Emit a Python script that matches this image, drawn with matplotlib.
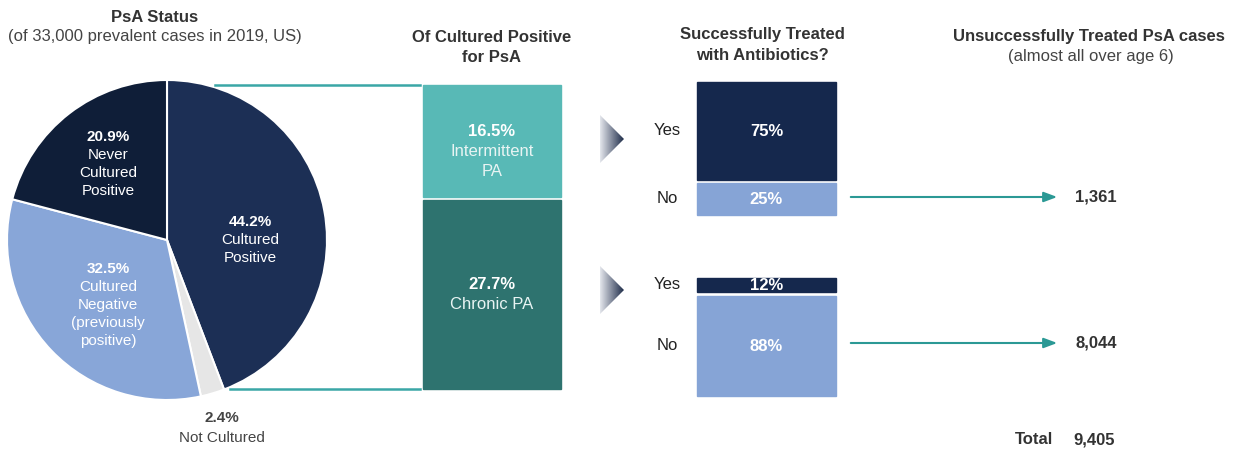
import numpy as np
import matplotlib.pyplot as plt
from matplotlib.patches import Polygon
from matplotlib.colors import LinearSegmentedColormap

plt.rcParams['font.family'] = ['Liberation Sans', 'DejaVu Sans']

# data
pie_labels = ['Cultured\nPositive', 'Not Cultured', 'Cultured\nNegative\n(previously\npositive)', 'Never\nCultured\nPositive']
pie_values = [44.2, 2.4, 32.5, 20.9]
pie_colors = ['#1c2f55', '#e6e6e6', '#88a6d8', '#0f1e38']

psa_labels = ['Intermittent\nPA', 'Chronic PA']
psa_values = [16.5, 27.7]
psa_colors = ['#58b9b6', '#2e736f']

treat_labels = ['Yes', 'No']
treat_inter = [75, 25]
treat_chronic = [12, 88]
treat_colors = ['#15284d', '#86a4d6']

unsuccessful = [1361, 8044]
total = sum(unsuccessful)

W, H = 1234, 453
fig = plt.figure(figsize=(W / 100, H / 100), dpi=100)
ax = fig.add_axes([0, 0, 1, 1])


def Y(py):
    return H - py


# pie
cx, cy, r = 167, 240, 160
wedges, _ = ax.pie(pie_values, colors=pie_colors, startangle=90, counterclock=False,
                   center=(cx, Y(cy)), radius=r,
                   wedgeprops=dict(edgecolor='white', linewidth=1.5))
ax.axis('off')

# label block centres
txt_pos = [(250, 240), (222, 427), (108, 305), (108, 164)]
lh = 18
for i, (lab, v) in enumerate(zip(pie_labels, pie_values)):
    x, y = txt_pos[i]
    col = '#444444' if i == 1 else 'white'
    lines = [f'{v}%'] + lab.split('\n')
    start = y - (len(lines) - 1) * lh / 2
    for j, line in enumerate(lines):
        ax.text(x, Y(start + j * (20 if i == 1 else lh)), line, ha='center',
                va='center', fontsize=11, color=col,
                fontweight='bold' if j == 0 else 'normal')

# bracket lines from pie to the PsA boxes
teal = '#3aa7a6'
ax.plot([215, 420], [Y(85), Y(85)], color=teal, lw=1.8)
ax.plot([230, 420], [Y(389), Y(389)], color=teal, lw=1.8)

# PsA boxes (height proportional to share)
scale = 6.8
gap = 3
top = 85
x0, bw = 423, 138
for lab, v, c in zip(psa_labels, psa_values, psa_colors):
    h = v * scale
    ax.bar(x0, h, width=bw, bottom=Y(top + h), align='edge', color=c, edgecolor=c)
    mid = top + h / 2
    start = mid - 10
    ax.text(x0 + bw / 2, Y(start), f'{v}%', ha='center', va='center', fontsize=12,
            fontweight='bold', color='white')
    for j, line in enumerate(lab.split('\n')):
        ax.text(x0 + bw / 2, Y(start + (j + 1) * 20), line, ha='center', va='center',
                fontsize=12, color='#e8f4f3')
    top += h + gap

# gradient triangles
grad = np.linspace(0, 1, 100).reshape(1, -1)
cmap = LinearSegmentedColormap.from_list('g', ['#e4e6ec', '#1f2d4a'])
for ty in (139, 290):
    tri = Polygon([(600, Y(ty - 24)), (624, Y(ty)), (600, Y(ty + 24))], closed=True,
                  facecolor='none', edgecolor='none')
    ax.add_patch(tri)
    im = ax.imshow(grad, cmap=cmap, extent=(600, 624, Y(ty + 24), Y(ty - 24)),
                   aspect='auto', zorder=2)
    im.set_clip_path(tri)
ax.set_xlim(0, W)
ax.set_ylim(0, H)
ax.set_aspect('auto')

# treatment boxes
bx, bw2 = 697, 139
groups = [(treat_inter, 82, 1.3, 3), (treat_chronic, 278, 1.14, 4)]
for vals, gtop, sc, g in groups:
    t = gtop
    for lab, v, c in zip(treat_labels, vals, treat_colors):
        h = v * sc
        ax.bar(bx, h, width=bw2, bottom=Y(t + h), align='edge', color=c, edgecolor=c)
        ax.text(bx + bw2 / 2, Y(t + h / 2 + 1), f'{v}%',
                ha='center', va='center', fontsize=12, fontweight='bold', color='white')
        ax.text(667, Y(t + h / 2), lab, ha='center',
                va='center', fontsize=12, color='#222222')
        t += h + g

# arrows to unsuccessful counts
arrow_col = '#2b9995'
for yy, n in zip((197, 343), unsuccessful):
    ax.annotate('', xy=(1060, Y(yy)), xytext=(848, Y(yy)),
                arrowprops=dict(arrowstyle='-|>,head_length=0.8,head_width=0.3',
                                color=arrow_col, lw=1.5))
    ax.text(1075, Y(yy), f'{n:,}', ha='left', va='center', fontsize=12,
            fontweight='bold', color='#333333')

ax.text(1015, Y(440), 'Total', ha='left', va='center', fontsize=12,
        fontweight='bold', color='#333333')
ax.text(1073, Y(440), f'{total:,}', ha='left', va='center', fontsize=12,
        fontweight='bold', color='#333333')

# titles
tc = '#333333'
ax.text(155, Y(17), 'PsA Status', ha='center', va='center', fontsize=12,
        fontweight='bold', color=tc)
ax.text(155, Y(37), '(of 33,000 prevalent cases in 2019, US)', ha='center',
        va='center', fontsize=12, color='#444444')
ax.text(492, Y(37), 'Of Cultured Positive', ha='center', va='center', fontsize=12,
        fontweight='bold', color=tc)
ax.text(492, Y(57), 'for PsA', ha='center', va='center', fontsize=12,
        fontweight='bold', color=tc)
ax.text(762, Y(35), 'Successfully Treated', ha='center', va='center', fontsize=12,
        fontweight='bold', color=tc)
ax.text(762, Y(55), 'with Antibiotics?', ha='center', va='center', fontsize=12,
        fontweight='bold', color=tc)
ax.text(1089, Y(37), 'Unsuccessfully Treated PsA cases', ha='center', va='center',
        fontsize=12, fontweight='bold', color=tc)
ax.text(1091, Y(57), '(almost all over age 6)', ha='center', va='center',
        fontsize=12, color='#444444')

fig.savefig('out.png', dpi=100)
